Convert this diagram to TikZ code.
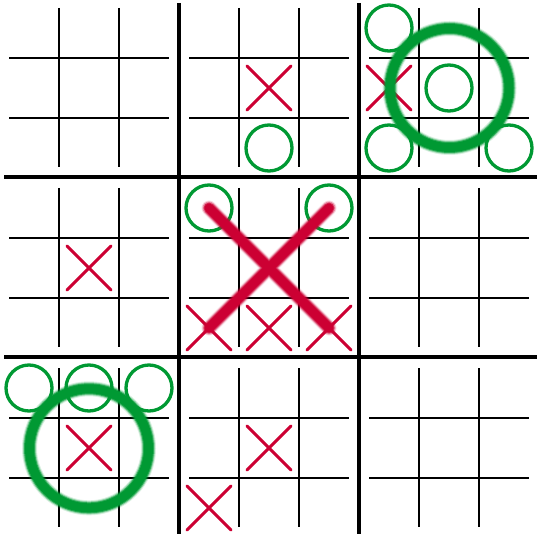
\documentclass[tikz,border=0pt]{standalone}
\definecolor{xred}{RGB}{204,0,51}
\definecolor{ogreen}{RGB}{0,153,51}
\begin{document}
\begin{tikzpicture}[x=1pt,y=-1pt,
  thingrid/.style={line width=2pt,black},
  thickgrid/.style={line width=4pt,black},
  xmark/.style={xred,line width=3pt,line cap=round},
  omark/.style={ogreen,line width=3.3pt},
  bigx/.style={xred,line cap=round},
  bigo/.style={ogreen}]
\useasboundingbox (0,0) rectangle (537,534);
% small grids
\foreach \i in {0,1,2}{
  \foreach \j in {0,1,2}{
    \draw[thingrid] (59+180*\j,8+180*\i) -- (59+180*\j,167+180*\i);
    \draw[thingrid] (119+180*\j,8+180*\i) -- (119+180*\j,167+180*\i);
    \draw[thingrid] (9+180*\j,58+180*\i) -- (169+180*\j,58+180*\i);
    \draw[thingrid] (9+180*\j,118+180*\i) -- (169+180*\j,118+180*\i);
  }
}
% big grid
\draw[thickgrid] (179,3) -- (179,534);
\draw[thickgrid] (359,3) -- (359,534);
\draw[thickgrid] (4,177.5) -- (537,177.5);
\draw[thickgrid] (4,357.3) -- (537,357.3);
% small X marks
\foreach \cx/\cy in {269/88, 389/88, 89/268, 209/328, 269/328, 329/328, 89/448, 269/448, 209/508}{
  \draw[xmark,shift={(\cx,\cy)}] (-22,-22) -- (22,22) (-22,22) -- (22,-22);
}
% small O marks
\foreach \cx/\cy in {269/148, 389/28, 449/88, 389/148, 509/148, 209/208, 329/208, 29/388, 89/388, 149/388}{
  \draw[omark] (\cx,\cy) circle[radius=23];
}
% big X (blurred)
\foreach \w/\o in {15/0.15, 13/0.35, 11/0.7, 9/1}{
  \draw[bigx,line width=\w pt,opacity=\o] (209,208) -- (329,328) (329,208) -- (209,328);
}
% big O marks (blurred)
\foreach \cx/\cy in {449.5/88, 89/448.3}{
  \foreach \w/\o in {15/0.15, 13/0.35, 11/0.7, 9/1}{
    \draw[bigo,line width=\w pt,opacity=\o] (\cx,\cy) circle[radius=59.5];
  }
}
\end{tikzpicture}
\end{document}
